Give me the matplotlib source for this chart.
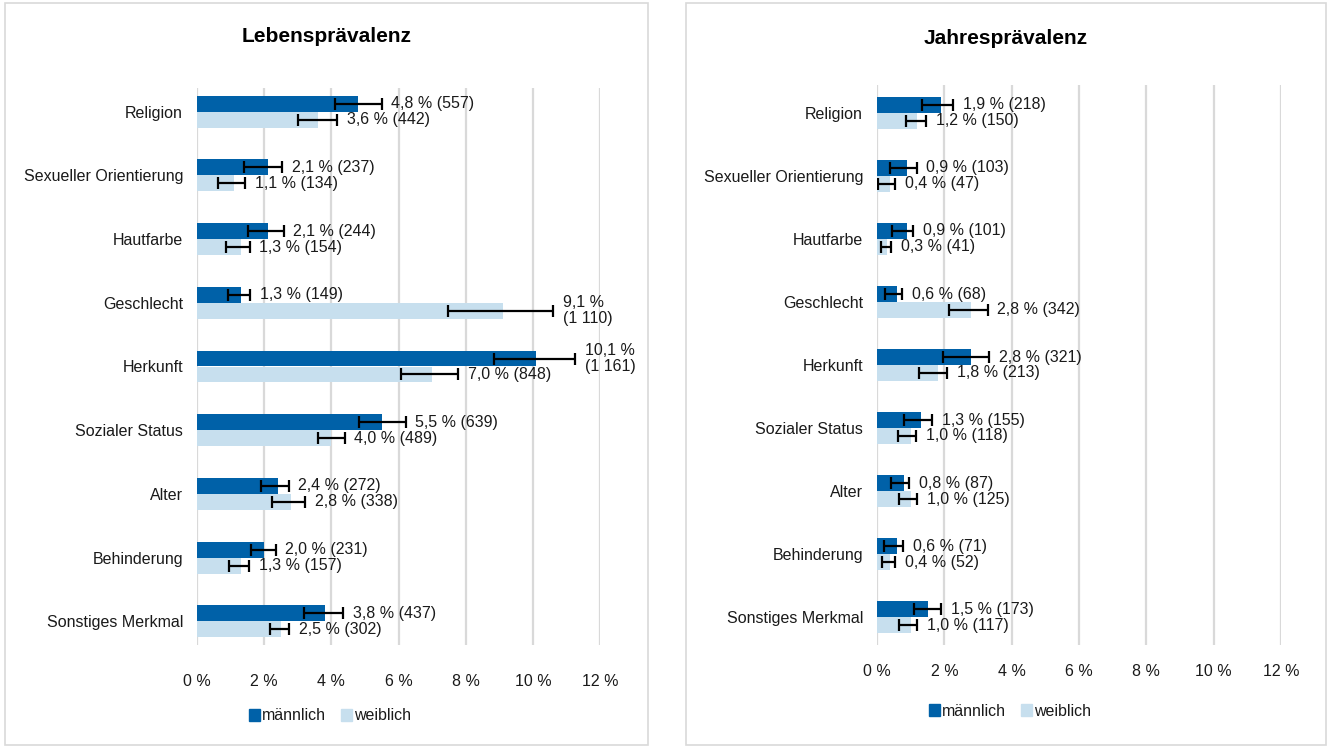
import matplotlib
matplotlib.use("Agg")
import matplotlib.pyplot as plt
from matplotlib.patches import Rectangle, Patch

plt.rcParams['font.family'] = ['Liberation Sans', 'DejaVu Sans']

kategorien = ["Religion", "Sexueller Orientierung", "Hautfarbe", "Geschlecht",
              "Herkunft", "Sozialer Status", "Alter", "Behinderung",
              "Sonstiges Merkmal"]

# Lebensprävalenz (%), Fallzahlen und Konfidenzgrenzen
leben_m = [4.8, 2.1, 2.1, 1.3, 10.1, 5.5, 2.4, 2.0, 3.8]
leben_m_n = [557, 237, 244, 149, 1161, 639, 272, 231, 437]
leben_m_lo = [4.1, 1.4, 1.53, 0.91, 8.84, 4.82, 1.9, 1.61, 3.18]
leben_m_hi = [5.5, 2.53, 2.58, 1.59, 11.25, 6.21, 2.73, 2.34, 4.35]
leben_w = [3.6, 1.1, 1.3, 9.1, 7.0, 4.0, 2.8, 1.3, 2.5]
leben_w_n = [442, 134, 154, 1110, 848, 489, 338, 157, 302]
leben_w_lo = [3.0, 0.63, 0.85, 7.47, 6.07, 3.59, 2.24, 0.95, 2.17]
leben_w_hi = [4.17, 1.43, 1.57, 10.6, 7.77, 4.4, 3.23, 1.55, 2.75]

# Jahresprävalenz (%)
jahr_m = [1.9, 0.9, 0.9, 0.6, 2.8, 1.3, 0.8, 0.6, 1.5]
jahr_m_n = [218, 103, 101, 68, 321, 155, 87, 71, 173]
jahr_m_lo = [1.35, 0.39, 0.45, 0.24, 1.97, 0.81, 0.42, 0.2, 1.1]
jahr_m_hi = [2.27, 1.18, 1.08, 0.75, 3.33, 1.64, 0.95, 0.77, 1.9]
jahr_w = [1.2, 0.4, 0.3, 2.8, 1.8, 1.0, 1.0, 0.4, 1.0]
jahr_w_n = [150, 47, 41, 342, 213, 118, 125, 52, 117]
jahr_w_lo = [0.85, 0.04, 0.11, 2.14, 1.26, 0.62, 0.65, 0.15, 0.65]
jahr_w_hi = [1.47, 0.53, 0.41, 3.29, 2.09, 1.16, 1.19, 0.53, 1.2]

ticks = [0, 2, 4, 6, 8, 10, 12]

BLAU = "#0061a8"
HELL = "#c7dfee"
GRID = "#d9d9d9"
TEXT = "#1a1a1a"
FS = 11.5


def beschriftung(wert, n):
    pct = f"{wert:.1f}".replace(".", ",") + " %"
    anzahl = f"{n:,}".replace(",", " ")
    if n >= 1000:
        return f"{pct}\n({anzahl})"
    return f"{pct} ({anzahl})"


def zeichne(ax, m, m_n, m_lo, m_hi, w, w_n, w_lo, w_hi, rand, pad):
    y = list(range(len(kategorien)))
    h = 0.25
    for werte, ns, lo, hi, farbe, off in [(m, m_n, m_lo, m_hi, BLAU, -h / 2),
                                           (w, w_n, w_lo, w_hi, HELL, h / 2)]:
        yy = [v + off for v in y]
        ax.barh(yy, werte, height=h, color=farbe, zorder=2)
        err = [[v - l for v, l in zip(werte, lo)], [u - v for v, u in zip(werte, hi)]]
        ax.errorbar(werte, yy, xerr=err, fmt="none", ecolor="black",
                    elinewidth=1.6, capsize=4.3, capthick=1.6, zorder=3)
        for v, n, u, yv in zip(werte, ns, hi, yy):
            ax.annotate(beschriftung(v, n), (u, yv), xytext=(7, 0),
                        textcoords="offset points", va="center", ha="left",
                        fontsize=FS, color=TEXT, linespacing=1.05)
    ax.set_yticks(y)
    ax.set_yticklabels(kategorien, fontsize=FS, color=TEXT)
    ax.set_ylim(len(kategorien) - 1 + rand, -rand)
    ax.set_xlim(0, 12)
    ax.set_xticks(ticks)
    ax.set_xticklabels([f"{t} %" for t in ticks], fontsize=FS, color=TEXT)
    ax.tick_params(axis="both", length=0)
    ax.tick_params(axis="x", pad=pad)
    ax.tick_params(axis="y", pad=10)
    ax.grid(axis="x", color=GRID, linewidth=1.6, zorder=0)
    ax.set_axisbelow(True)
    for s in ax.spines.values():
        s.set_visible(False)


fig = plt.figure(figsize=(13.3, 7.47), dpi=100)

# Rahmen der beiden Diagramme
fig.patches.append(Rectangle((5 / 1330, 2 / 747), 643 / 1330, 742 / 747,
                             transform=fig.transFigure, fill=False,
                             edgecolor=GRID, linewidth=1.2))
fig.patches.append(Rectangle((686 / 1330, 2 / 747), 640 / 1330, 742 / 747,
                             transform=fig.transFigure, fill=False,
                             edgecolor=GRID, linewidth=1.2))

ax1 = fig.add_axes([197 / 1330, 102 / 747, 403 / 1330, 557 / 747])
zeichne(ax1, leben_m, leben_m_n, leben_m_lo, leben_m_hi,
        leben_w, leben_w_n, leben_w_lo, leben_w_hi, 0.37, 21)

ax2 = fig.add_axes([877 / 1330, 102 / 747, 404 / 1330, 560 / 747])
zeichne(ax2, jahr_m, jahr_m_n, jahr_m_lo, jahr_m_hi,
        jahr_w, jahr_w_n, jahr_w_lo, jahr_w_hi, 0.44, 14)

fig.text(327 / 1330, 1 - 36 / 747, "Lebensprävalenz", ha="center", va="center",
         fontsize=15, fontweight="bold", color="black")
fig.text(1006 / 1330, 1 - 38 / 747, "Jahresprävalenz", ha="center", va="center",
         fontsize=15, fontweight="bold", color="black")

handles = [Patch(color=BLAU, label="männlich"), Patch(color=HELL, label="weiblich")]
for x, yl in [(330, 716), (1010, 711)]:
    fig.legend(handles=handles, loc="center", bbox_to_anchor=(x / 1330, 1 - yl / 747),
               ncol=2, frameon=False, fontsize=FS, handlelength=0.7,
               handleheight=0.7, handletextpad=0.15, columnspacing=0.9,
               labelcolor=TEXT)

fig.savefig("out.png", dpi=100)
